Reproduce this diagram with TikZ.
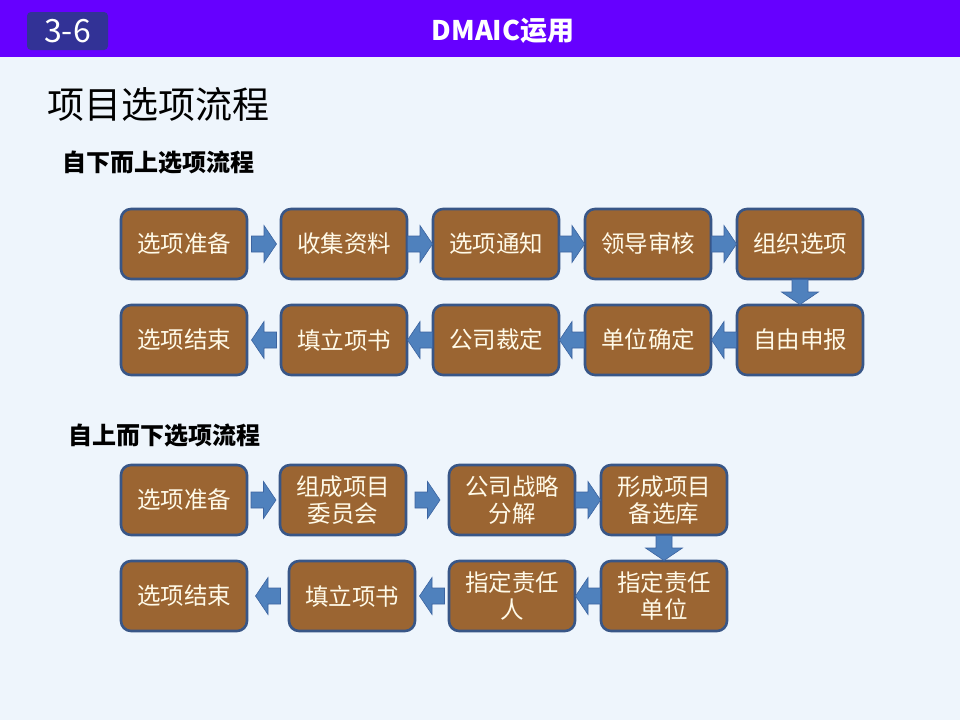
\documentclass[tikz,border=0pt]{standalone}
\usepackage{fontspec}
\setmainfont{Noto Sans CJK SC}
\usetikzlibrary{calc}
\definecolor{bg}{RGB}{238,245,252}
\definecolor{band}{RGB}{102,0,255}
\definecolor{numbox}{RGB}{50,50,150}
\definecolor{boxfill}{RGB}{155,101,50}
\definecolor{boxline}{RGB}{56,86,135}
\definecolor{arrfill}{RGB}{79,129,189}
\definecolor{arrline}{RGB}{60,100,160}
\definecolor{cream}{RGB}{255,250,232}
\tikzset{
  stepbox/.style={draw=boxline, line width=2.6pt, fill=boxfill, rounded corners=10pt,
    minimum width=126pt, minimum height=70pt, inner sep=2pt, align=center,
    text=cream, font=\fontsize{23.5}{27}\selectfont},
  blockarr/.style={fill=arrfill, draw=arrline, line width=0.6pt, line join=miter},
}
\newcommand\blkarr[3]{%
  \coordinate (mid) at ($(#1)!0.5!(#2)$);
  \begin{scope}[shift={(mid)}, rotate=#3]
    \draw[blockarr] (-12.5,-8) -- (0,-8) -- (0,-18.5) -- (12.5,0) -- (0,18.5) -- (0,8) -- (-12.5,8) -- cycle;
  \end{scope}}
\begin{document}
\begin{tikzpicture}[x=1pt,y=-1pt]
\useasboundingbox (0,0) rectangle (960,720);
\fill[bg] (0,0) rectangle (960,720);
\fill[band] (0,0) rectangle (960,57);
\node[fill=numbox, rounded corners=4pt, minimum width=81pt, minimum height=38pt, inner sep=0pt,
  text=white, font=\fontsize{32}{34}\selectfont] (num) at (67.5,31) {3-6};
\node[text=white, font=\bfseries\fontsize{27}{30}\selectfont] (title) at (503,31) {DMAIC运用};
\node[anchor=west, inner sep=0pt, font=\fontsize{37}{42}\selectfont] (head) at (47,104) {项目选项流程};
\node[anchor=west, inner sep=0pt, font=\bfseries\fontsize{24}{28}\selectfont] (sub1) at (62,163) {自下而上选项流程};
\node[anchor=west, inner sep=0pt, font=\bfseries\fontsize{24}{28}\selectfont] (sub2) at (68,436) {自上而下选项流程};
% section 1
\node[stepbox] (a1) at (184,244) {选项准备};
\node[stepbox] (a2) at (344,244) {收集资料};
\node[stepbox] (a3) at (496,244) {选项通知};
\node[stepbox] (a4) at (648,244) {领导审核};
\node[stepbox] (a5) at (800,244) {组织选项};
\node[stepbox] (b5) at (800,340) {自由申报};
\node[stepbox] (b4) at (648,340) {单位确定};
\node[stepbox] (b3) at (496,340) {公司裁定};
\node[stepbox] (b2) at (344,340) {填立项书};
\node[stepbox] (b1) at (184,340) {选项结束};
\blkarr{a1.east}{a2.west}{0}
\blkarr{a2.east}{a3.west}{0}
\blkarr{a3.east}{a4.west}{0}
\blkarr{a4.east}{a5.west}{0}
\blkarr{a5.south}{b5.north}{-90}
\blkarr{b5.west}{b4.east}{180}
\blkarr{b4.west}{b3.east}{180}
\blkarr{b3.west}{b2.east}{180}
\blkarr{b2.west}{b1.east}{180}
% section 2
\node[stepbox] (c1) at (184,500) {选项准备};
\node[stepbox] (c2) at (343,500) {组成项目\\委员会};
\node[stepbox] (c3) at (512,500) {公司战略\\分解};
\node[stepbox] (c4) at (664,500) {形成项目\\备选库};
\node[stepbox] (d4) at (664,596) {指定责任\\单位};
\node[stepbox] (d3) at (512,596) {指定责任\\人};
\node[stepbox] (d2) at (352,596) {填立项书};
\node[stepbox] (d1) at (184,596) {选项结束};
\blkarr{c1.east}{c2.west}{0}
\blkarr{c2.east}{c3.west}{0}
\blkarr{c3.east}{c4.west}{0}
\blkarr{c4.south}{d4.north}{-90}
\blkarr{d4.west}{d3.east}{180}
\blkarr{d3.west}{d2.east}{180}
\blkarr{d2.west}{d1.east}{180}
\end{tikzpicture}
\end{document}
